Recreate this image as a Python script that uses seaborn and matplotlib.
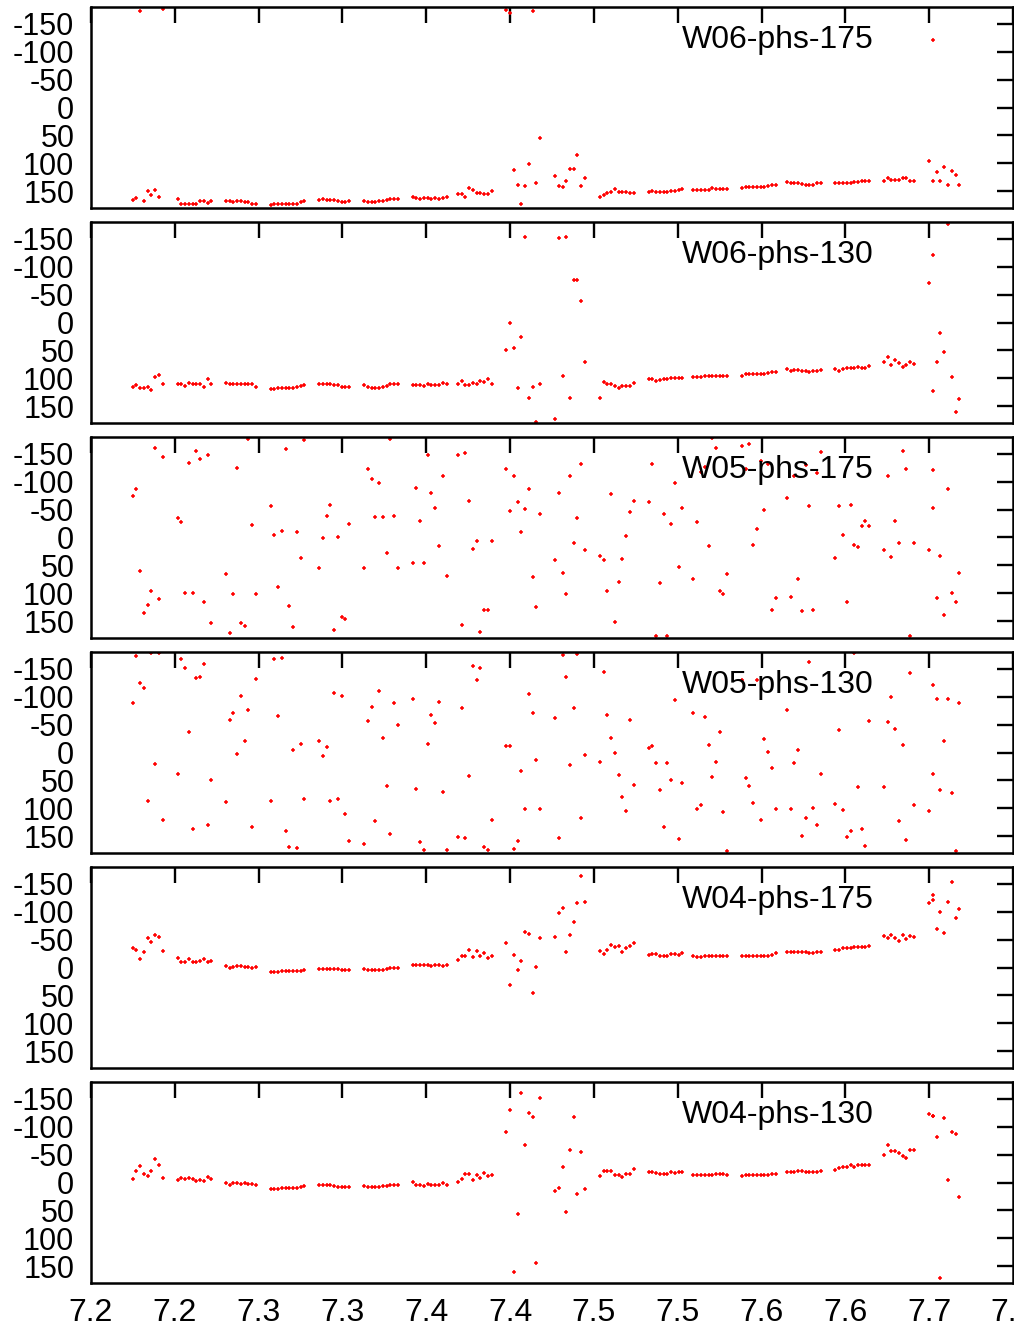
import numpy as np
import pandas as pd
import seaborn as sns
import matplotlib
matplotlib.use("Agg")
import matplotlib.pyplot as plt

# sample positions, shared by all six traces (one row per burst)
freq = [
    7.2248, 7.2270, 7.2293, 7.2315, 7.2338, 7.2360, 7.2382, 7.2405, 7.2427,
    7.2516, 7.2538, 7.2561, 7.2583, 7.2606, 7.2628, 7.2650, 7.2673, 7.2695, 7.2718,
    7.2805, 7.2827, 7.2850, 7.2872, 7.2895, 7.2917, 7.2939, 7.2962, 7.2984,
    7.3071, 7.3093, 7.3116, 7.3138, 7.3161, 7.3183, 7.3205, 7.3228, 7.3250, 7.3273,
    7.3361, 7.3383, 7.3406, 7.3428, 7.3451, 7.3473, 7.3495, 7.3518, 7.3540,
    7.3629, 7.3651, 7.3674, 7.3696, 7.3719, 7.3741, 7.3763, 7.3786, 7.3808, 7.3831,
    7.3919, 7.3941, 7.3964, 7.3986, 7.4009, 7.4031, 7.4053, 7.4076, 7.4098, 7.4121,
    7.4189, 7.4211, 7.4234, 7.4256, 7.4279, 7.4301, 7.4323, 7.4346, 7.4368, 7.4391,
    7.4478, 7.4500, 7.4523, 7.4545, 7.4568, 7.4590, 7.4612, 7.4635, 7.4657, 7.4680,
    7.4768, 7.4790, 7.4813, 7.4835, 7.4858, 7.4880, 7.4902, 7.4925, 7.4947,
    7.5036, 7.5058, 7.5081, 7.5103, 7.5126, 7.5148, 7.5170, 7.5193, 7.5215, 7.5238,
    7.5326, 7.5348, 7.5371, 7.5393, 7.5416, 7.5438, 7.5460, 7.5483, 7.5505, 7.5528,
    7.5594, 7.5616, 7.5639, 7.5661, 7.5684, 7.5706, 7.5728, 7.5751, 7.5773, 7.5796,
    7.5883, 7.5905, 7.5928, 7.5950, 7.5973, 7.5995, 7.6017, 7.6040, 7.6062, 7.6085,
    7.6151, 7.6173, 7.6196, 7.6218, 7.6241, 7.6263, 7.6285, 7.6308, 7.6330, 7.6353,
    7.6441, 7.6463, 7.6486, 7.6508, 7.6531, 7.6553, 7.6575, 7.6598, 7.6620, 7.6643,
    7.6730, 7.6752, 7.6775, 7.6797, 7.6820, 7.6842, 7.6864, 7.6887, 7.6909,
    7.7000, 7.7022, 7.7024, 7.7045, 7.7067, 7.7090, 7.7112, 7.7134, 7.7157, 7.7179,
]

w06_175 = [
    166, 162, -173, 167, 149, 157, 148, 160, -177,
    164, 173, 172, 172, 172, 172, 168, 168, 171, 168,
    167, 167, 169, 167, 168, 169, 170, 172, 172,
    174, 173, 173, 173, 173, 173, 173, 172, 170, 168,
    165, 164, 165, 165, 165, 168, 169, 169, 168,
    167, 169, 169, 169, 168, 167, 165, 164, 163, 163,
    161, 162, 164, 162, 162, 164, 162, 163, 162, 161,
    155, 155, 161, 144, 148, 154, 153, 155, 155, 150,
    -175, -169, 112, 138, 173, 140, 101, -173, 135, 54,
    123, 140, 143, 132, 110, 111, 85, 140, 126,
    160, 156, 154, 152, 146, 151, 151, 151, 154, 154,
    152, 149, 152, 152, 152, 151, 149, 149, 148, 146,
    148, 148, 147, 147, 147, 145, 146, 146, 146, 146,
    145, 143, 142, 142, 143, 143, 143, 140, 139, 139,
    133, 135, 136, 136, 137, 138, 138, 138, 136, 135,
    136, 136, 136, 135, 135, 133, 133, 131, 132, 132,
    132, 126, 129, 129, 129, 126, 127, 131, 132,
    95, -121, 132, 115, 132, 106, 138, 113, 121, 138,
]

w06_130 = [
    115, 112, 118, 117, 115, 120, 98, 94, 110,
    111, 111, 113, 108, 111, 111, 111, 115, 102, 111,
    109, 111, 111, 111, 111, 111, 111, 111, 115,
    119, 119, 118, 118, 118, 118, 118, 115, 114, 112,
    110, 110, 110, 111, 112, 112, 115, 115, 115,
    112, 115, 118, 117, 117, 115, 113, 111, 111, 111,
    112, 112, 112, 114, 111, 112, 112, 112, 109, 111,
    111, 105, 112, 112, 108, 111, 104, 107, 101, 110,
    49, 1, 46, 117, 26, -154, 136, 115, 178, 111,
    173, -152, 95, -154, 135, -76, -76, -38, 71,
    136, 107, 110, 110, 114, 118, 113, 113, 113, 108,
    101, 101, 104, 103, 102, 102, 100, 100, 99, 100,
    98, 98, 97, 96, 96, 96, 96, 95, 95, 96,
    95, 92, 92, 92, 93, 93, 93, 91, 88, 88,
    84, 86, 85, 85, 86, 86, 88, 87, 86, 85,
    84, 86, 83, 82, 82, 82, 79, 81, 81, 78,
    70, 61, 77, 67, 72, 79, 76, 71, 75,
    -70, -121, 123, 70, 18, 53, -176, 98, 160, 137,
]

w05_175 = [
    -75, -87, 60, 136, 121, 95, -160, 110, -145,
    -35, -27, 99, -133, 100, -155, -140, 115, -147, 153,
    66, 171, 101, -124, 153, 158, -176, -22, 102,
    -57, -5, 88, -11, -159, 122, 160, -10, 36, -174,
    55, 1, -39, -58, 165, 0, 143, 146, -24,
    55, -122, -105, -37, -98, -36, 27, -177, -38, 55,
    46, -88, -30, 46, -147, -79, -52, 16, -111, 69,
    -148, 156, -152, -66, 20, 6, 169, 129, 129, 7,
    -123, -48, -111, -64, -9, -51, -86, 71, 124, -42,
    40, -79, 64, 101, -111, 9, -35, -132, 22,
    33, 41, 96, -78, 152, 79, 39, -3, -45, -65,
    -64, -131, 176, 81, -42, 176, -24, -98, 52, -53,
    75, -27, -117, -126, 15, -178, -160, 96, 101, 65,
    -163, -123, -167, 14, -16, -137, -49, -132, 130, 109,
    -70, 107, -111, 75, 131, -130, -56, 129, -116, -154,
    37, -56, -4, 115, -59, 14, 17, -20, -30, -21,
    22, -110, 35, -29, 10, -155, -123, 177, 10,
    22, -121, -52, 108, 34, 139, -86, 99, 115, 63,
]

w05_130 = [
    -89, -173, -124, -115, 86, -179, 20, -179, 120,
    39, -167, -152, -36, 137, -133, -135, -158, 129, 50,
    89, -59, -71, 3, -102, -20, -77, 134, -132,
    86, -167, -65, -170, 140, 170, -5, 171, -16, 84,
    -21, 7, -9, 86, -107, 83, -101, 110, 158,
    163, -57, -81, 123, -111, -26, 60, 146, -89, -49,
    -96, 66, 160, 174, -15, -67, -52, -90, 70, 174,
    151, -79, 153, 42, -155, -130, -151, 170, 174, 120,
    -12, -11, 173, 158, 33, 101, -104, -70, 14, 102,
    -62, 153, -175, -136, 23, -80, -177, 117, 4,
    17, -145, -68, -26, 1, 40, 80, 105, -59, 58,
    -8, -12, 18, 68, 134, 18, 49, -94, 155, 55,
    -71, 101, 94, -63, -14, 44, 17, -36, 106, 177,
    -130, 46, 60, 90, -130, 120, -24, -1, 27, 102,
    -77, 101, 19, -5, 150, 118, -162, 99, 129, 38,
    92, -40, 103, 152, 140, -178, 62, 137, 167, -57,
    62, -55, -99, -42, 123, -13, 157, -142, 94,
    105, -121, 39, -96, 67, -21, -95, 73, 176, -88,
]

w04_175 = [
    -35, -31, -15, -27, -52, -46, -59, -54, -30,
    -17, -10, -10, -16, -10, -10, -12, -15, -10, -12,
    -2, 0, -1, -3, -2, -1, -1, 0, -1,
    8, 8, 8, 7, 7, 6, 6, 6, 6, 4,
    3, 2, 2, 2, 2, 2, 4, 5, 4,
    2, 5, 5, 5, 4, 4, 2, 1, 1, 0,
    -5, -5, -4, -4, -4, -2, -5, -4, -3, -4,
    -13, -20, -20, -31, -18, -29, -20, -26, -17, -21,
    -44, 31, -23, 4, -11, -63, -60, 45, -1, -53,
    -54, -98, -107, -27, -58, -82, -115, -163, -118,
    -30, -24, -32, -41, -36, -38, -27, -35, -39, -44,
    -23, -24, -24, -21, -21, -21, -24, -24, -23, -26,
    -20, -18, -19, -20, -20, -21, -21, -21, -21, -21,
    -20, -20, -21, -21, -21, -21, -21, -21, -23, -26,
    -27, -27, -27, -27, -27, -27, -26, -26, -27, -27,
    -31, -32, -35, -35, -35, -36, -36, -37, -37, -39,
    -56, -52, -58, -52, -47, -58, -51, -57, -54,
    -115, -121, -129, -69, -99, -62, -117, -154, -89, -105,
]

w04_130 = [
    -6, -21, -29, -15, -11, -20, -42, -31, -8,
    -4, -8, -7, -8, -6, -2, -4, -2, -10, -7,
    0, 4, 1, 0, 2, 1, 3, 3, 5,
    11, 11, 11, 10, 10, 10, 10, 9, 8, 7,
    5, 5, 5, 5, 6, 8, 8, 8, 8,
    6, 8, 8, 8, 8, 7, 6, 5, 5, 4,
    -1, 4, 4, 6, 2, 5, 4, 4, 1, 4,
    -1, -7, -15, -15, -4, -14, -8, -17, -11, -14,
    -90, -130, 160, 57, -161, -68, -124, -117, 145, -151,
    15, 10, -28, 52, -59, -117, 20, -54, 11,
    -11, -20, -20, -20, -14, -14, -10, -15, -16, -25,
    -18, -18, -17, -16, -15, -15, -18, -17, -18, -18,
    -14, -14, -14, -14, -14, -14, -15, -15, -15, -14,
    -12, -13, -14, -14, -14, -14, -14, -13, -15, -16,
    -18, -18, -19, -20, -20, -19, -18, -18, -19, -20,
    -23, -26, -27, -27, -31, -28, -31, -31, -31, -31,
    -50, -67, -57, -57, -53, -48, -44, -58, -58,
    -123, -120, -120, -82, 171, -115, -5, -90, -87, 26,
]

panel_names = ["W06-phs-175", "W06-phs-130", "W05-phs-175",
               "W05-phs-130", "W04-phs-175", "W04-phs-130"]
panel_values = [w06_175, w06_130, w05_175, w05_130, w04_175, w04_130]

xtick_vals = [7.2, 7.25, 7.3, 7.35, 7.4, 7.45, 7.5, 7.55, 7.6, 7.65, 7.7, 7.75]
xtick_labels = ["7.2", "7.2", "7.3", "7.3", "7.4", "7.4",
                "7.5", "7.5", "7.6", "7.6", "7.7", "7.8"]
ytick_vals = [-150, -100, -50, 0, 50, 100, 150]

sns.set_style("white")
plt.rcParams["font.family"] = ["Liberation Sans", "DejaVu Sans"]
plt.rcParams["text.color"] = "black"
plt.rcParams["xtick.color"] = "black"
plt.rcParams["ytick.color"] = "black"
plt.rcParams["xtick.labelcolor"] = "black"
plt.rcParams["ytick.labelcolor"] = "black"

W, H = 1014, 1332
fig = plt.figure(figsize=(W / 100, H / 100), dpi=100)

for k, (name, vals) in enumerate(zip(panel_names, panel_values)):
    top = 7 + 215 * k
    ax = fig.add_axes([91 / W, 1 - (top + 201) / H, 922 / W, 201 / H])
    df = pd.DataFrame({"freq": freq, "phase": vals})
    sns.scatterplot(data=df, x="freq", y="phase", ax=ax, marker="+",
                    color="#ff0000", s=12, linewidth=1.1, legend=False)
    ax.set_xlim(7.2, 7.75)
    ax.set_ylim(180, -180)
    ax.set_xticks(xtick_vals)
    ax.set_yticks(ytick_vals)
    ax.set_yticklabels([str(v) for v in ytick_vals])
    if k == len(panel_names) - 1:
        ax.set_xticklabels(xtick_labels)
    else:
        ax.set_xticklabels([])
    ax.set_xlabel("")
    ax.set_ylabel("")
    ax.tick_params(axis="both", direction="in", length=11.5, width=1.7,
                   top=True, right=True, colors="black", labelcolor="black")
    ax.tick_params(axis="y", labelsize=22, pad=12)
    ax.tick_params(axis="x", labelsize=23, pad=11)
    for sp in ax.spines.values():
        sp.set_linewidth(1.8)
        sp.set_color("black")
    ax.text(0.849, 0.836, name, transform=ax.transAxes, ha="right",
            va="center", fontsize=23, color="black")

fig.savefig("out.png", dpi=100)
